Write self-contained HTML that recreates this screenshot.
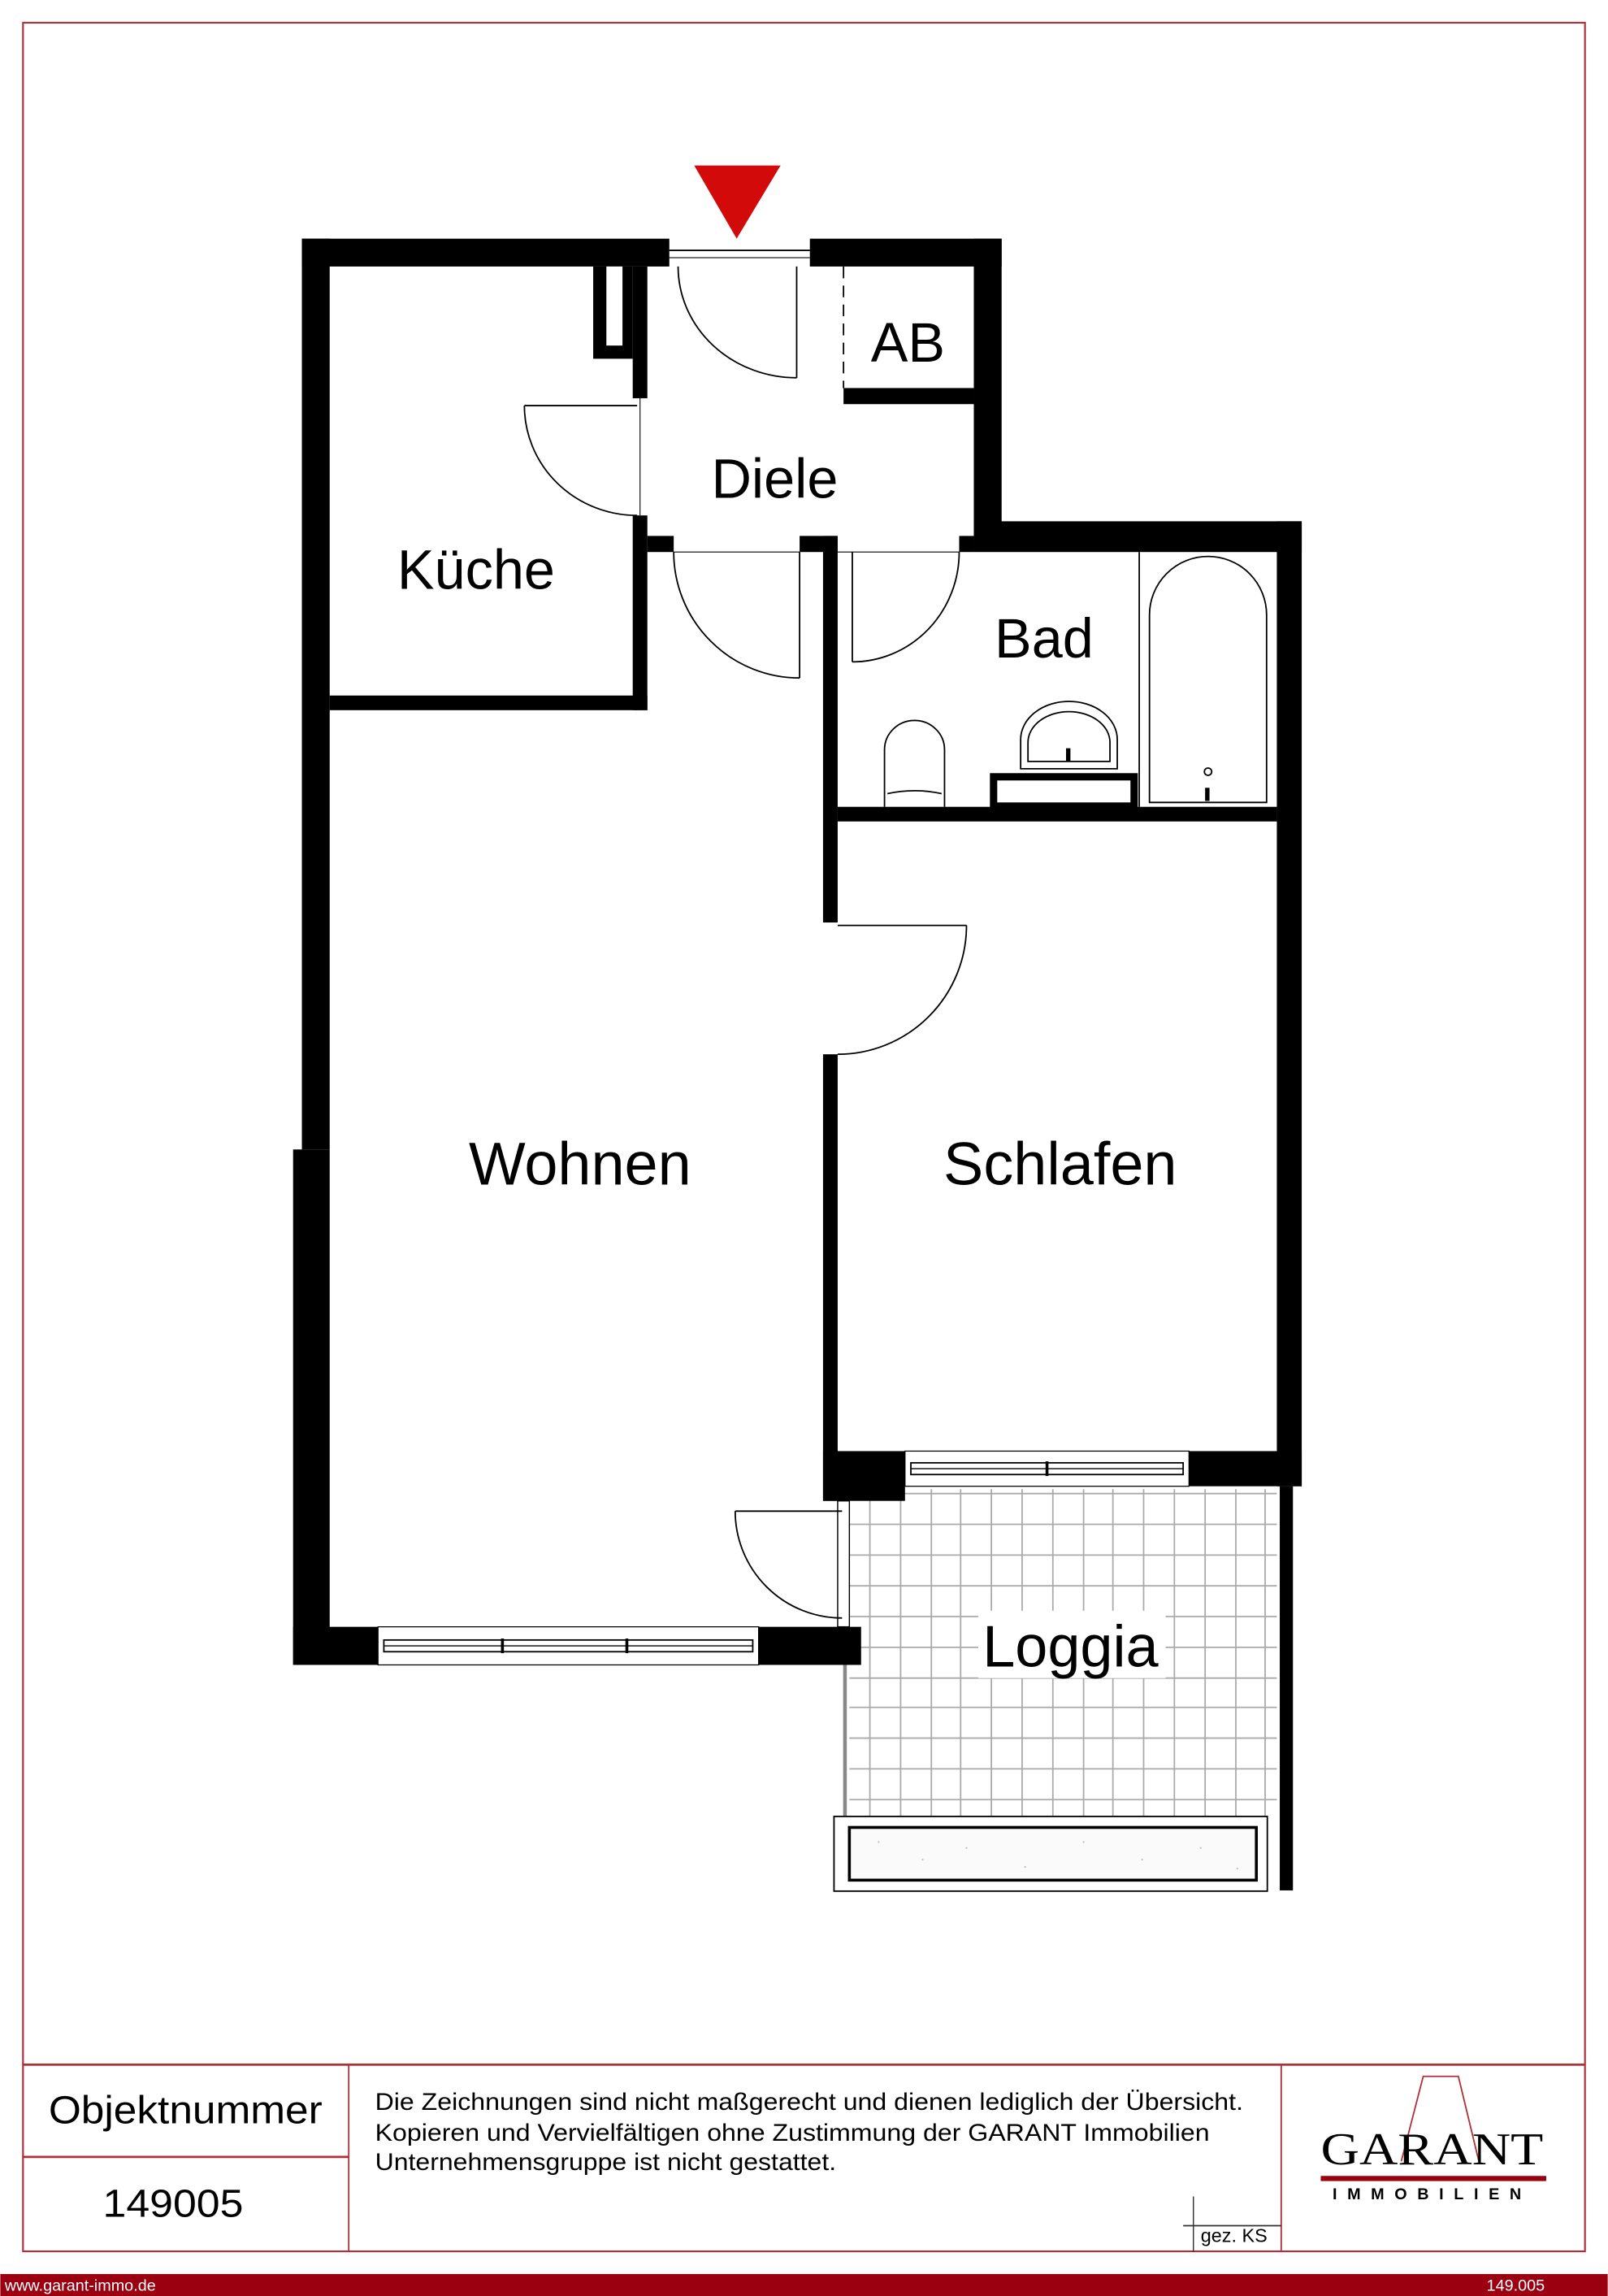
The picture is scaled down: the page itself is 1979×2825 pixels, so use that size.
<!DOCTYPE html>
<html><head><meta charset="utf-8"><style>
html,body{margin:0;padding:0;background:#fff}
svg{display:block}
text{font-family:"Liberation Sans",Arial,sans-serif}
</style></head><body>
<svg width="1979" height="2825" viewBox="0 0 1098 1568" xmlns="http://www.w3.org/2000/svg">
<rect x="0" y="0" width="1098" height="1568" fill="#fff"/>
<!-- frame -->
<rect x="15.5" y="15.5" width="1067" height="1522" fill="none" stroke="#b0303a" stroke-width="1.2"/>
<line x1="15" y1="1410" x2="1083" y2="1410" stroke="#b0303a" stroke-width="1.5"/>
<line x1="238" y1="1410" x2="238" y2="1538" stroke="#b0303a" stroke-width="1"/>
<line x1="875" y1="1410" x2="875" y2="1538" stroke="#b0303a" stroke-width="1"/>
<line x1="15" y1="1473" x2="238" y2="1473" stroke="#b0303a" stroke-width="1.5"/>
<line x1="815" y1="1500" x2="815" y2="1538" stroke="#333" stroke-width="0.8"/>
<line x1="808" y1="1520" x2="875" y2="1520" stroke="#333" stroke-width="1"/>
<text x="33" y="1450" font-size="27" textLength="187" lengthAdjust="spacingAndGlyphs">Objektnummer</text>
<text x="70" y="1514" font-size="27" textLength="96" lengthAdjust="spacingAndGlyphs">149005</text>
<text x="256" y="1441" font-size="16.5" textLength="593" lengthAdjust="spacingAndGlyphs">Die Zeichnungen sind nicht maßgerecht und dienen lediglich der Übersicht.</text>
<text x="256" y="1462" font-size="16.5" textLength="570" lengthAdjust="spacingAndGlyphs">Kopieren und Vervielfältigen ohne Zustimmung der GARANT Immobilien</text>
<text x="256" y="1482" font-size="16.5" textLength="315" lengthAdjust="spacingAndGlyphs">Unternehmensgruppe ist nicht gestattet.</text>
<text x="820" y="1531" font-size="13">gez. KS</text>
<!-- logo -->
<polyline points="957,1476 972,1418 996,1418 1010,1476" fill="none" stroke="#b0303a" stroke-width="1"/>
<text x="978" y="1478" font-size="31" style="font-family:'Liberation Serif',serif" text-anchor="middle" textLength="152" lengthAdjust="spacingAndGlyphs">GARANT</text>
<rect x="902" y="1486" width="154" height="3.5" fill="#9b0010"/>
<text x="978" y="1502" font-size="11" font-weight="bold" text-anchor="middle" letter-spacing="7">IMMOBILIEN</text>
<!-- footer -->
<rect x="0" y="1553" width="1098" height="15" fill="#9b0010"/>
<text x="3" y="1564.5" font-size="11" fill="#fff">www.garant-immo.de</text>
<text x="1055" y="1564.5" font-size="11" fill="#fff" text-anchor="end">149.005</text>

<!-- loggia grid -->
<g stroke="#aaa" stroke-width="1">
<line x1="594" y1="1017" x2="594" y2="1240"/><line x1="615" y1="1017" x2="615" y2="1240"/><line x1="636" y1="1017" x2="636" y2="1240"/><line x1="656" y1="1017" x2="656" y2="1240"/><line x1="677" y1="1017" x2="677" y2="1240"/><line x1="698" y1="1017" x2="698" y2="1240"/><line x1="719" y1="1017" x2="719" y2="1240"/><line x1="740" y1="1017" x2="740" y2="1240"/><line x1="760" y1="1017" x2="760" y2="1240"/><line x1="781" y1="1017" x2="781" y2="1240"/><line x1="802" y1="1017" x2="802" y2="1240"/><line x1="823" y1="1017" x2="823" y2="1240"/><line x1="844" y1="1017" x2="844" y2="1240"/><line x1="864" y1="1017" x2="864" y2="1240"/>
<line x1="580" y1="1020" x2="872" y2="1020"/><line x1="580" y1="1041" x2="872" y2="1041"/><line x1="580" y1="1062" x2="872" y2="1062"/><line x1="580" y1="1083" x2="872" y2="1083"/><line x1="580" y1="1104" x2="872" y2="1104"/><line x1="580" y1="1125" x2="872" y2="1125"/><line x1="580" y1="1146" x2="872" y2="1146"/><line x1="580" y1="1166" x2="872" y2="1166"/><line x1="580" y1="1187" x2="872" y2="1187"/><line x1="580" y1="1208" x2="872" y2="1208"/><line x1="580" y1="1229" x2="872" y2="1229"/>
</g>
<rect x="668" y="1100" width="128" height="46" fill="#fff"/>
<line x1="577" y1="1137" x2="577" y2="1240" stroke="#888" stroke-width="2.5"/>
<rect x="874" y="1015" width="9" height="276" fill="#000"/>
<rect x="569.5" y="1240.5" width="296" height="51" fill="#fff" stroke="#000" stroke-width="1"/>
<rect x="580" y="1248" width="278" height="36" fill="#fafafa" stroke="#000" stroke-width="2"/>
<g fill="#bbb"><circle cx="600" cy="1258" r=".6"/><circle cx="630" cy="1270" r=".6"/><circle cx="660" cy="1262" r=".6"/><circle cx="700" cy="1275" r=".6"/><circle cx="740" cy="1258" r=".6"/><circle cx="780" cy="1270" r=".6"/><circle cx="820" cy="1262" r=".6"/><circle cx="845" cy="1276" r=".6"/></g>

<!-- walls -->
<g fill="#000">
<rect x="206" y="163" width="251" height="19"/>
<rect x="206" y="163" width="19" height="622"/>
<rect x="200" y="785" width="25" height="352"/>
<rect x="553" y="163" width="131" height="19"/>
<rect x="665" y="163" width="19" height="213"/>
<rect x="665" y="356" width="224" height="21"/>
<rect x="872" y="356" width="17" height="659"/>
<rect x="432" y="182" width="10" height="90"/>
<rect x="432" y="352" width="10" height="133"/>
<rect x="405" y="182" width="27" height="63"/>
<rect x="225" y="475" width="217" height="10"/>
<rect x="442" y="366" width="18" height="11"/>
<rect x="546" y="366" width="26" height="11"/>
<rect x="655" y="366" width="10" height="11"/>
<rect x="562" y="366" width="10" height="264"/>
<rect x="562" y="720" width="10" height="305"/>
<rect x="572" y="551" width="300" height="10"/>
<rect x="576" y="265" width="89" height="11"/>
<rect x="562" y="991" width="56" height="34"/>
<rect x="812" y="991" width="77" height="24"/>
<rect x="200" y="1111" width="58" height="26"/>
<rect x="518" y="1111" width="70" height="26"/>
</g>
<rect x="414" y="182" width="11" height="54" fill="#fff"/>
<line x1="576" y1="182" x2="576" y2="265" stroke="#000" stroke-width="1" stroke-dasharray="8,5"/>
<polygon points="474,113 533,113 503,163" fill="#d20a0a"/>
<line x1="457" y1="171" x2="553" y2="171" stroke="#000" stroke-width="1"/>
<line x1="457" y1="176" x2="553" y2="176" stroke="#000" stroke-width="0.6"/>
<g fill="none" stroke="#000" stroke-width="1">
<line x1="544" y1="182" x2="544" y2="258"/>
<path d="M463,182 A81,76 0 0 0 544,258"/>
<line x1="358" y1="277" x2="435" y2="277"/>
<path d="M358,277 A77,75 0 0 0 435,352"/>
<line x1="437" y1="272" x2="437" y2="352" stroke-width="0.6"/>
<line x1="546" y1="377" x2="546" y2="463"/>
<path d="M460,377 A86,86 0 0 0 546,463"/>
<line x1="460" y1="377" x2="546" y2="377" stroke-width="0.6"/>
<line x1="582" y1="377" x2="582" y2="452"/>
<path d="M655,377 A73,75 0 0 1 582,452"/>
<line x1="572" y1="377" x2="655" y2="377" stroke-width="0.6"/>
<line x1="572" y1="632" x2="660" y2="632"/>
<path d="M660,632 A88,88 0 0 1 572,720"/>
<line x1="502" y1="1032" x2="575" y2="1032"/>
<path d="M502,1032 A73,73 0 0 0 575,1105"/>
<rect x="572" y="1025" width="8" height="86" stroke-width="0.8"/>
<rect x="258" y="1111" width="260" height="26" stroke-width="0.7"/>
<rect x="262" y="1120" width="252" height="8" stroke-width="1"/>
<line x1="262" y1="1124" x2="514" y2="1124" stroke-width="0.7"/>
<line x1="343" y1="1119" x2="343" y2="1129" stroke-width="2"/>
<line x1="428" y1="1119" x2="428" y2="1129" stroke-width="2"/>
<rect x="618" y="991" width="194" height="24" stroke-width="0.7"/>
<rect x="622" y="999" width="186" height="8" stroke-width="1"/>
<line x1="622" y1="1003" x2="808" y2="1003" stroke-width="0.7"/>
<line x1="715" y1="998" x2="715" y2="1008" stroke-width="2"/>
<line x1="778" y1="377" x2="778" y2="551"/>
<path d="M785,548 L785,420 A40,40 0 0 1 865,420 L865,548 Z"/>
<circle cx="825" cy="527" r="2.5"/>
<path d="M604,551 L604,512 A20.5,20 0 0 1 645,512 L645,551"/>
<path d="M606,542 Q625,538 643,542"/>
<path d="M697,525 L697,505 A33,26 0 0 1 763,505 L763,525 Z"/>
<path d="M702,520 L702,507 A28,21 0 0 1 758,507 L758,520 Z"/>
<rect x="678.5" y="530.5" width="96" height="20" stroke-width="5"/>
</g>
<rect x="728" y="511" width="3" height="9" fill="#000"/>
<rect x="823" y="538" width="3" height="9" fill="#000"/>
<g font-size="38" fill="#000">
<text x="325" y="402" text-anchor="middle">Küche</text>
<text x="529" y="340" text-anchor="middle">Diele</text>
<text x="620" y="247" text-anchor="middle">AB</text>
<text x="713" y="449" text-anchor="middle">Bad</text>
<text x="396" y="809" text-anchor="middle" font-size="41">Wohnen</text>
<text x="724" y="809" text-anchor="middle" font-size="41">Schlafen</text>
<text x="731" y="1138" text-anchor="middle" font-size="40">Loggia</text>
</g>
</svg>
</body></html>
